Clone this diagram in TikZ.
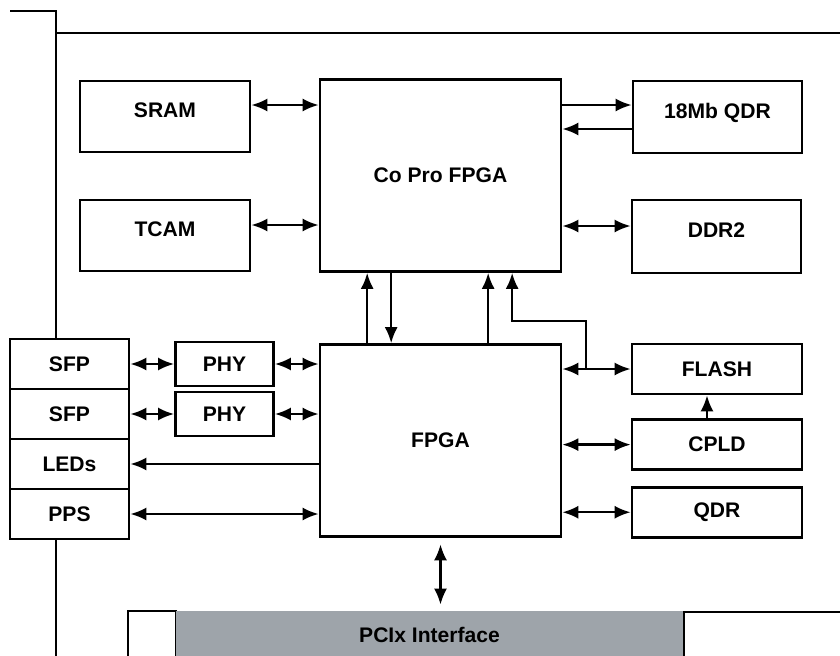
\documentclass[tikz,border=0pt]{standalone}
\usepackage{fontspec}
\setmainfont{Liberation Sans}
\usetikzlibrary{arrows.meta, positioning, calc}
\definecolor{pcigray}{RGB}{158,164,170}

\begin{document}
\begin{tikzpicture}[
    x=0.02cm, y=-0.02cm,
    font=\fontsize{12}{14}\selectfont\bfseries,
    box/.style={rectangle, draw=black, line width=1.5pt, fill=white, inner sep=0pt, minimum width=3.4cm, minimum height=1.42cm},
    chip/.style={box, minimum width=4.82cm, minimum height=3.84cm},
    upper/.style={text depth=0.24cm},
    slot/.style={box, minimum height=1cm},
    sfpcell/.style={box, minimum width=2.38cm, minimum height=1cm},
    phybox/.style={box, minimum width=1.96cm, minimum height=0.88cm},
    arrow/.style={-{Latex[length=0.32cm, width=0.26cm]}, line width=1.4pt},
    dbl/.style={{Latex[length=0.32cm, width=0.26cm]}-{Latex[length=0.32cm, width=0.26cm]}, line width=1.4pt}
]
    \useasboundingbox (0,0) rectangle (840,656);
    \clip (0,0) rectangle (840,656);

    % Board outline
    \draw[line width=1.5pt] (10,11) -- (56,11) -- (56,660);
    \draw[line width=1.5pt] (56,33) -- (845,33);

    % Nodes
    \node[chip] (copro) at (440.5,175.5) {Co Pro FPGA};
    \node[chip] (fpga) at (440.5,440.5) {FPGA};

    \node[box, upper] (sram) at (165,116.5) {SRAM};
    \node[box, upper] (tcam) at (165,235.5) {TCAM};
    \node[box, upper, minimum width=3.38cm, minimum height=1.44cm] (qdrA) at (717.5,117) {18Mb QDR};
    \node[box, upper, minimum width=3.38cm, minimum height=1.46cm] (ddr) at (716.5,236.5) {DDR2};

    \node[slot] (flash) at (717,369) {FLASH};
    \node[slot, below=0.46cm of flash] (cpld) {CPLD};
    \node[slot, below=0.3cm of cpld] (qdr) {QDR};

    \node[sfpcell] (sfpA) at (69.5,364) {SFP};
    \node[sfpcell] (sfpB) at (69.5,414) {SFP};
    \node[sfpcell] (leds) at (69.5,464) {LEDs};
    \node[sfpcell] (pps) at (69.5,514) {PPS};

    \node[phybox] (phyA) at (224.5,364) {PHY};
    \node[phybox] (phyB) at (224.5,414) {PHY};

    % PCIx slot
    \draw[line width=1.5pt, fill=white] (128,611) rectangle (176,670);
    \draw[line width=1.5pt, fill=white] (684,612) rectangle (850,670);
    \node[fill=pcigray, inner sep=0pt, minimum width=10.14cm, minimum height=0.96cm] (pcix) at (429.5,635) {PCIx Interface};

    % Arrows
    \coordinate (sramio) at ([yshift=0.23cm]sram.east);
    \coordinate (tcamio) at ([yshift=0.21cm]tcam.east);
    \coordinate (qdrin) at ([yshift=0.24cm]qdrA.west);
    \coordinate (qdrout) at ([yshift=-0.24cm]qdrA.west);
    \coordinate (ddrio) at ([yshift=0.21cm]ddr.west);

    \draw[dbl] (sramio) -- (sramio -| copro.west);
    \draw[dbl] (tcamio) -- (tcamio -| copro.west);
    \draw[arrow] (qdrin -| copro.east) -- (qdrin);
    \draw[arrow] (qdrout) -- (qdrout -| copro.east);
    \draw[dbl] (ddrio -| copro.east) -- (ddrio);

    \draw[arrow] ([xshift=0.97cm]fpga.north west) -- ([xshift=0.97cm]copro.south west);
    \draw[arrow] ([xshift=1.45cm]copro.south west) -- ([xshift=1.45cm]fpga.north west);
    \draw[arrow] ([xshift=3.39cm]fpga.north west) -- ([xshift=3.39cm]copro.south west);

    \coordinate (tap) at (586,321);
    \draw[dbl] (fpga.east |- flash) -- (flash);
    \draw[arrow] (tap |- flash) -- (tap) -| ([xshift=3.87cm]copro.south west);
    \draw[dbl] (fpga.east |- cpld) -- (cpld);
    \draw[dbl] (fpga.east |- qdr) -- (qdr);
    \draw[arrow] ([xshift=-0.2cm]cpld.north) -- ([xshift=-0.2cm]flash.south);

    \draw[dbl, shorten <=0.13cm, shorten >=0.12cm] (fpga.south) -- (fpga.south |- pcix.north);

    \draw[dbl] (sfpA) -- (phyA);
    \draw[dbl] (sfpB) -- (phyB);
    \draw[dbl] (phyA) -- (phyA -| fpga.west);
    \draw[dbl] (phyB) -- (phyB -| fpga.west);
    \draw[arrow] (fpga.west |- leds) -- (leds);
    \draw[dbl] (pps) -- (pps -| fpga.west);

\end{tikzpicture}
\end{document}
